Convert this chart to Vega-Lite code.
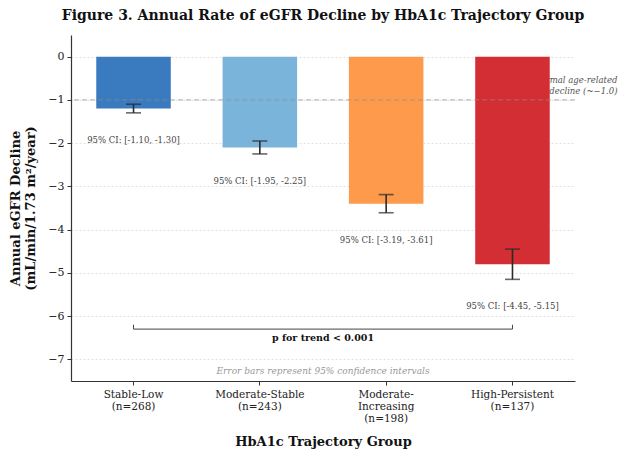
{
  "$schema": "https://vega.github.io/schema/vega-lite/v6.json",
  "width": 504,
  "height": 346,
  "autosize": {"type": "none"},
  "padding": {"left": 71, "top": 35, "right": 52, "bottom": 68},
  "background": "white",
  "title": {
    "text": "Figure 3. Annual Rate of eGFR Decline by HbA1c Trajectory Group",
    "fontSize": 14,
    "fontWeight": "bold",
    "font": "DejaVu Serif",
    "color": "#111111",
    "anchor": "middle",
    "offset": 12
  },
  "config": {
    "font": "DejaVu Serif",
    "view": {"stroke": null},
    "axis": {
      "labelFont": "DejaVu Serif",
      "titleFont": "DejaVu Serif",
      "labelColor": "#222222",
      "titleColor": "#111111",
      "domainColor": "#333333",
      "tickColor": "#333333",
      "domainWidth": 1.2,
      "tickWidth": 1
    }
  },
  "datasets": {
    "groups": [
      {"group": "Stable-Low\n(n=268)", "rate": -1.2, "ci_upper": -1.10, "ci_lower": -1.30, "ci_text": "95% CI: [-1.10, -1.30]"},
      {"group": "Moderate-Stable\n(n=243)", "rate": -2.1, "ci_upper": -1.95, "ci_lower": -2.25, "ci_text": "95% CI: [-1.95, -2.25]"},
      {"group": "Moderate-\nIncreasing\n(n=198)", "rate": -3.4, "ci_upper": -3.19, "ci_lower": -3.61, "ci_text": "95% CI: [-3.19, -3.61]"},
      {"group": "High-Persistent\n(n=137)", "rate": -4.8, "ci_upper": -4.45, "ci_lower": -5.15, "ci_text": "95% CI: [-4.45, -5.15]"}
    ],
    "bracket_ends": [
      {"group": "Stable-Low\n(n=268)", "y_base": -6.3, "y_tip": -6.2},
      {"group": "High-Persistent\n(n=137)", "y_base": -6.3, "y_tip": -6.2}
    ],
    "bracket_span": [
      {"start": "Stable-Low\n(n=268)", "end": "High-Persistent\n(n=137)", "y_base": -6.3}
    ],
    "reference": [
      {"group": "High-Persistent\n(n=137)", "value": -1.0, "note_y": -0.55, "note": "Normal age-related\ndecline (~−1.0)"}
    ],
    "notes": [
      {"y": -6.5, "text": "p for trend < 0.001"},
      {"y": -7.27, "text": "Error bars represent 95% confidence intervals"}
    ]
  },
  "encoding": {
    "x": {
      "field": "group",
      "type": "nominal",
      "sort": null,
      "scale": {
        "domain": ["Stable-Low\n(n=268)", "Moderate-Stable\n(n=243)", "Moderate-\nIncreasing\n(n=198)", "High-Persistent\n(n=137)"],
        "paddingInner": 0.41,
        "paddingOuter": 0.2
      },
      "axis": {
        "title": "HbA1c Trajectory Group",
        "titleFontSize": 13,
        "titleFontWeight": "bold",
        "titlePadding": 12,
        "labelAngle": 0,
        "labelFontSize": 10.5,
        "labelLineHeight": 12,
        "labelPadding": 4,
        "tickSize": 4,
        "labelExpr": "split(datum.value, '\\n')"
      }
    }
  },
  "layer": [
    {
      "data": {"name": "reference"},
      "mark": {"type": "text", "align": "right", "baseline": "middle", "dx": 105, "fontSize": 8.5, "fontStyle": "italic", "color": "#555555", "lineBreak": "\n", "lineHeight": 10.5},
      "encoding": {
        "y": {"field": "note_y", "type": "quantitative"},
        "text": {"field": "note"}
      }
    },
    {
      "data": {"name": "groups"},
      "mark": {"type": "bar"},
      "encoding": {
        "y": {
          "field": "rate",
          "type": "quantitative",
          "scale": {"domain": [-7.5, 0.5], "nice": false, "zero": false},
          "axis": {
            "title": ["Annual eGFR Decline", "(mL/min/1.73 m²/year)"],
            "titleFontSize": 13,
            "titleFontWeight": "bold",
            "titleLineHeight": 15,
            "titlePadding": 10,
            "values": [0, -1, -2, -3, -4, -5, -6, -7],
            "labelFontSize": 11,
            "tickSize": 4,
            "labelPadding": 3,
            "grid": true,
            "gridColor": "#d9d9d9",
            "gridDash": [2, 2],
            "gridWidth": 0.8
          }
        },
        "y2": {"datum": 0},
        "color": {
          "field": "group",
          "type": "nominal",
          "scale": {
            "domain": ["Stable-Low\n(n=268)", "Moderate-Stable\n(n=243)", "Moderate-\nIncreasing\n(n=198)", "High-Persistent\n(n=137)"],
            "range": ["#3a7abf", "#7bb4da", "#fd9a4b", "#d42e35"]
          },
          "legend": null
        }
      }
    },
    {
      "data": {"name": "reference"},
      "mark": {"type": "rule", "color": "#8c8c8c", "strokeDash": [5, 3], "strokeWidth": 1, "opacity": 0.7},
      "encoding": {
        "x": null,
        "y": {"field": "value", "type": "quantitative"}
      }
    },
    {
      "data": {"name": "groups"},
      "mark": {"type": "rule", "color": "#2a2a2a", "strokeWidth": 1.6},
      "encoding": {
        "y": {"field": "ci_upper", "type": "quantitative"},
        "y2": {"field": "ci_lower"}
      }
    },
    {
      "data": {"name": "groups"},
      "mark": {"type": "tick", "color": "#2a2a2a", "size": 15, "thickness": 1.6, "orient": "horizontal"},
      "encoding": {"y": {"field": "ci_upper", "type": "quantitative"}}
    },
    {
      "data": {"name": "groups"},
      "mark": {"type": "tick", "color": "#2a2a2a", "size": 15, "thickness": 1.6, "orient": "horizontal"},
      "encoding": {"y": {"field": "ci_lower", "type": "quantitative"}}
    },
    {
      "data": {"name": "groups"},
      "mark": {"type": "text", "baseline": "middle", "align": "center", "dy": 27, "fontSize": 8.5, "color": "#444444"},
      "encoding": {
        "y": {"field": "ci_lower", "type": "quantitative"},
        "text": {"field": "ci_text"}
      }
    },
    {
      "data": {"name": "bracket_span"},
      "mark": {"type": "rule", "color": "#444444", "strokeWidth": 1},
      "encoding": {
        "x": {"field": "start", "type": "nominal"},
        "x2": {"field": "end"},
        "y": {"field": "y_base", "type": "quantitative"}
      }
    },
    {
      "data": {"name": "bracket_ends"},
      "mark": {"type": "rule", "color": "#444444", "strokeWidth": 1},
      "encoding": {
        "y": {"field": "y_base", "type": "quantitative"},
        "y2": {"field": "y_tip"}
      }
    },
    {
      "data": {"name": "notes"},
      "transform": [{"filter": "datum.y > -7"}],
      "mark": {"type": "text", "baseline": "middle", "align": "center", "fontSize": 9.5, "fontWeight": "bold", "color": "#111111"},
      "encoding": {
        "x": null,
        "y": {"field": "y", "type": "quantitative"},
        "text": {"field": "text"}
      }
    },
    {
      "data": {"name": "notes"},
      "transform": [{"filter": "datum.y < -7"}],
      "mark": {"type": "text", "baseline": "middle", "align": "center", "fontSize": 9, "fontStyle": "italic", "color": "#999999"},
      "encoding": {
        "x": null,
        "y": {"field": "y", "type": "quantitative"},
        "text": {"field": "text"}
      }
    }
  ]
}
